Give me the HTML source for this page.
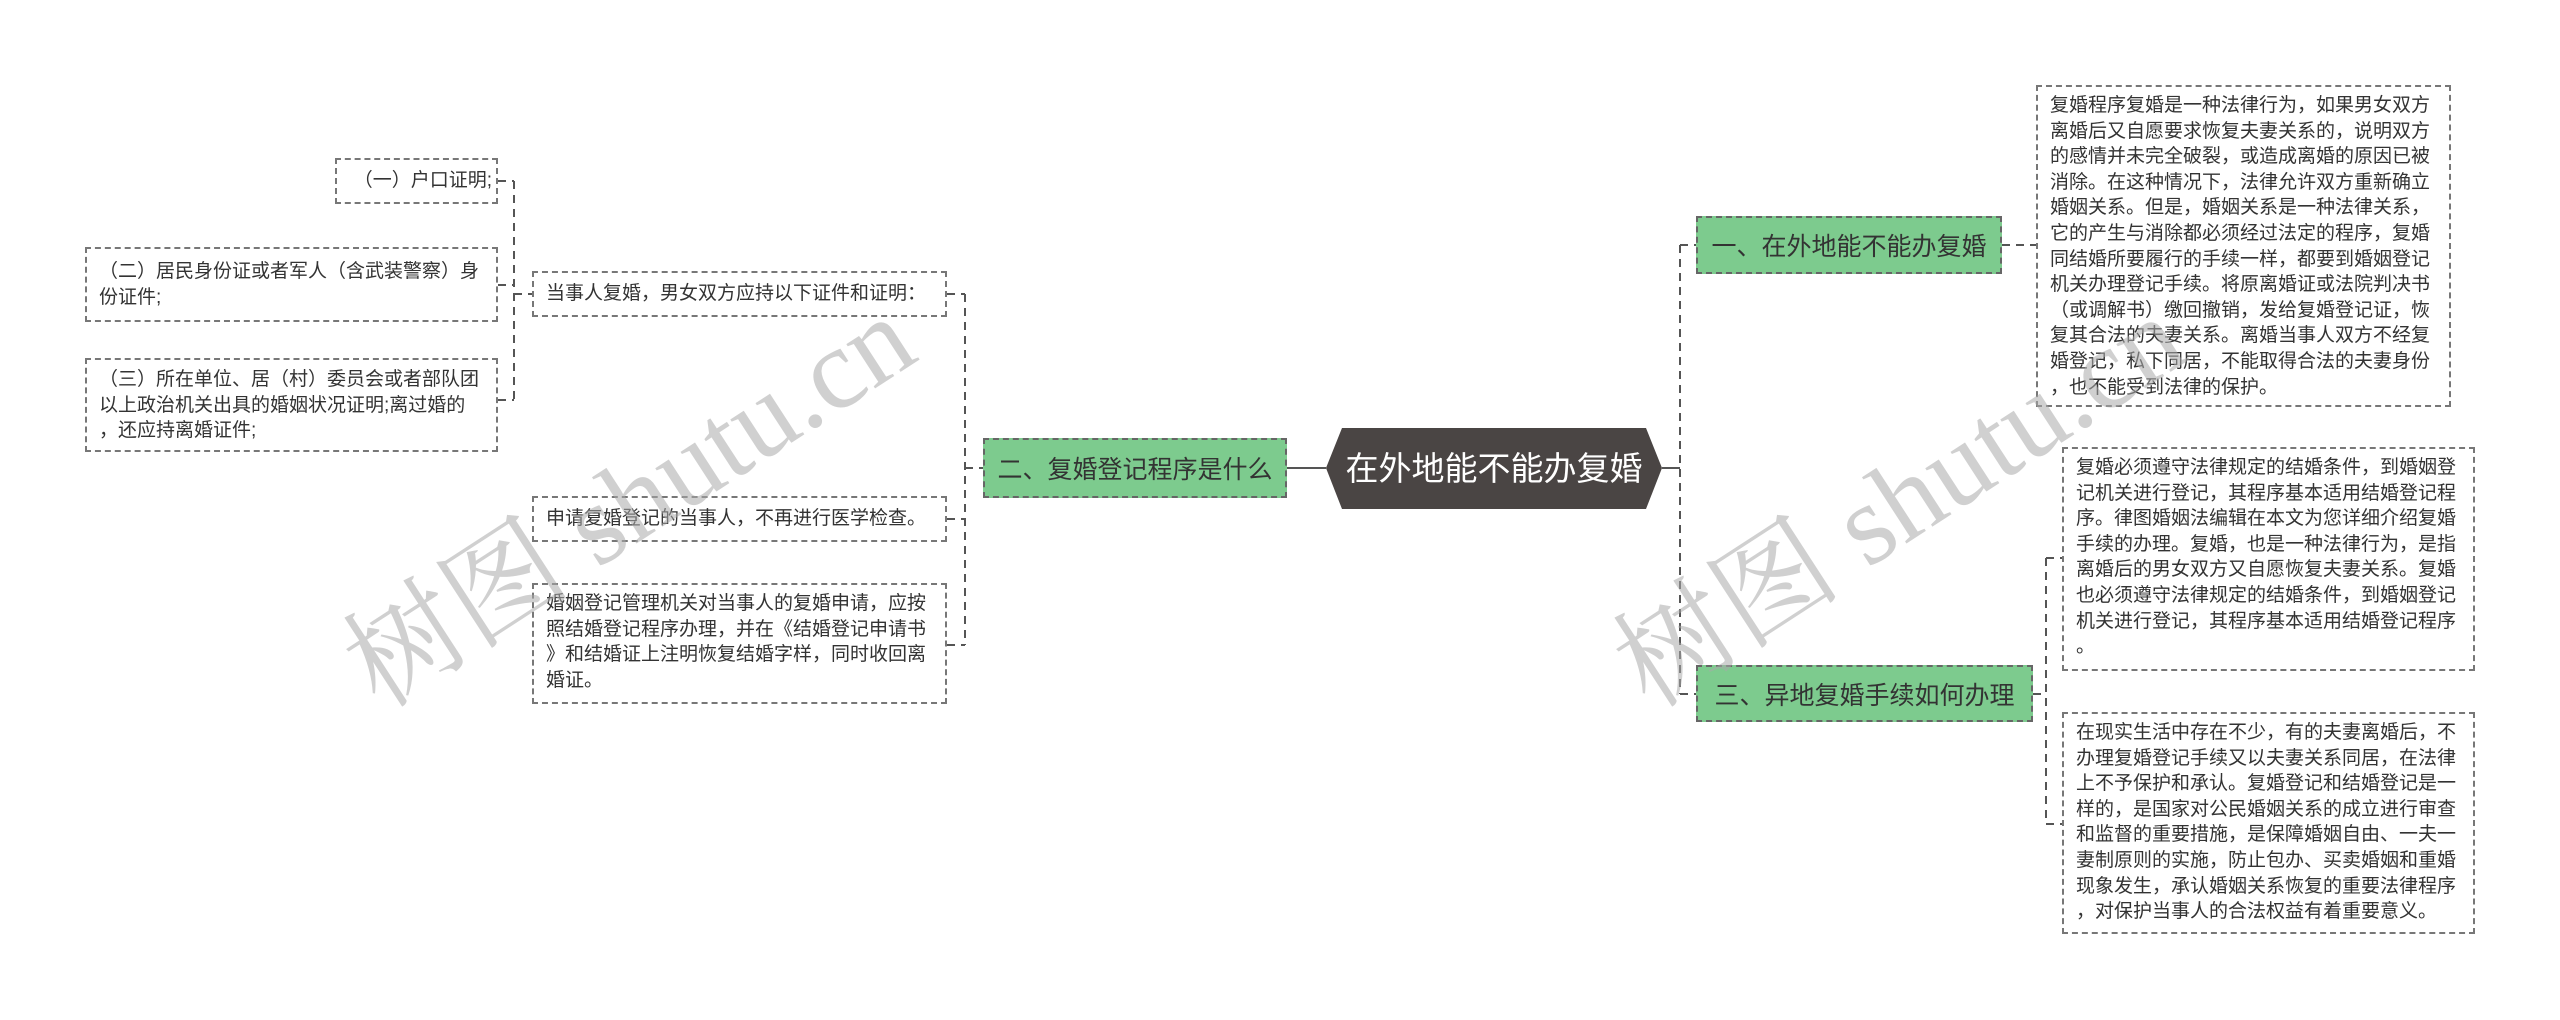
<!DOCTYPE html>
<html><head><meta charset="utf-8"><style>
html,body{margin:0;padding:0;background:#fff;}
#c{position:relative;width:2560px;height:1020px;overflow:hidden;font-family:"Liberation Sans","Noto Sans CJK SC",sans-serif;}
.b{position:absolute;box-sizing:border-box;border:2px dashed #777;background:#fff;color:#333;font-size:19px;line-height:25.6px;padding:6px 8px 6px 12px;white-space:nowrap;overflow:hidden;}
.g{position:absolute;box-sizing:border-box;border:2px dashed #666;background:#7dcb8e;color:#333;font-size:25px;display:flex;align-items:center;justify-content:center;white-space:nowrap;}
svg{position:absolute;left:0;top:0;}
</style></head><body><div id="c">
<svg width="2560" height="1020">
<g stroke="#555" stroke-width="2" stroke-dasharray="8,6" fill="none">
<line x1="1287" y1="468" x2="1326" y2="468" stroke-dasharray="none"/>
<line x1="1662" y1="468" x2="1680" y2="468" stroke-dasharray="none"/>
<line x1="1680" y1="245" x2="1680" y2="694"/>
<line x1="1680" y1="245" x2="1696" y2="245"/>
<line x1="1680" y1="694" x2="1696" y2="694"/>
<line x1="2002" y1="245" x2="2036" y2="245"/>
<line x1="2033" y1="694" x2="2046" y2="694"/>
<line x1="2046" y1="558" x2="2046" y2="824"/>
<line x1="2046" y1="558" x2="2062" y2="558"/>
<line x1="2046" y1="824" x2="2062" y2="824"/>
<line x1="965" y1="294" x2="965" y2="645"/>
<line x1="965" y1="468" x2="983" y2="468"/>
<line x1="947" y1="294" x2="965" y2="294"/>
<line x1="947" y1="519" x2="965" y2="519"/>
<line x1="947" y1="645" x2="965" y2="645"/>
<line x1="514" y1="181" x2="514" y2="400"/>
<line x1="514" y1="294" x2="532" y2="294"/>
<line x1="498" y1="181" x2="514" y2="181"/>
<line x1="498" y1="285" x2="514" y2="285"/>
<line x1="498" y1="400" x2="514" y2="400"/>
</g>
<polygon points="1342,428 1646,428 1662,468 1646,509 1342,509 1326,468" fill="#4a4544"/>
<text x="1494" y="480" fill="#fff" font-size="33" text-anchor="middle" font-family="Liberation Sans, Noto Sans CJK SC, sans-serif">在外地能不能办复婚</text>
</svg>
<div class="g" style="left:983px;top:438px;width:304px;height:60px;">二、复婚登记程序是什么</div>
<div class="g" style="left:1696px;top:216px;width:306px;height:58px;">一、在外地能不能办复婚</div>
<div class="g" style="left:1696px;top:665px;width:337px;height:57px;">三、异地复婚手续如何办理</div>
<div class="b" style="left:532px;top:271px;width:415px;height:46px;padding-top:8px;">当事人复婚，男女双方应持以下证件和证明：</div>
<div class="b" style="left:532px;top:496px;width:415px;height:46px;padding-top:8px;">申请复婚登记的当事人，不再进行医学检查。</div>
<div class="b" style="left:532px;top:583px;width:415px;height:121px;">婚姻登记管理机关对当事人的复婚申请，应按<br>照结婚登记程序办理，并在《结婚登记申请书<br>》和结婚证上注明恢复结婚字样，同时收回离<br>婚证。</div>
<div class="b" style="left:335px;top:158px;width:163px;height:46px;padding:8px 4px;text-align:right;">（一）户口证明;</div>
<div class="b" style="left:85px;top:247px;width:413px;height:75px;padding-top:10px;">（二）居民身份证或者军人（含武装警察）身<br>份证件;</div>
<div class="b" style="left:85px;top:358px;width:413px;height:94px;padding-top:7px;">（三）所在单位、居（村）委员会或者部队团<br>以上政治机关出具的婚姻状况证明;离过婚的<br>，还应持离婚证件;</div>
<div class="b" style="left:2036px;top:85px;width:415px;height:322px;">复婚程序复婚是一种法律行为，如果男女双方<br>离婚后又自愿要求恢复夫妻关系的，说明双方<br>的感情并未完全破裂，或造成离婚的原因已被<br>消除。在这种情况下，法律允许双方重新确立<br>婚姻关系。但是，婚姻关系是一种法律关系，<br>它的产生与消除都必须经过法定的程序，复婚<br>同结婚所要履行的手续一样，都要到婚姻登记<br>机关办理登记手续。将原离婚证或法院判决书<br>（或调解书）缴回撤销，发给复婚登记证，恢<br>复其合法的夫妻关系。离婚当事人双方不经复<br>婚登记，私下同居，不能取得合法的夫妻身份<br>，也不能受到法律的保护。</div>
<div class="b" style="left:2062px;top:447px;width:413px;height:224px;">复婚必须遵守法律规定的结婚条件，到婚姻登<br>记机关进行登记，其程序基本适用结婚登记程<br>序。律图婚姻法编辑在本文为您详细介绍复婚<br>手续的办理。复婚，也是一种法律行为，是指<br>离婚后的男女双方又自愿恢复夫妻关系。复婚<br>也必须遵守法律规定的结婚条件，到婚姻登记<br>机关进行登记，其程序基本适用结婚登记程序<br>。</div>
<div class="b" style="left:2062px;top:712px;width:413px;height:222px;">在现实生活中存在不少，有的夫妻离婚后，不<br>办理复婚登记手续又以夫妻关系同居，在法律<br>上不予保护和承认。复婚登记和结婚登记是一<br>样的，是国家对公民婚姻关系的成立进行审查<br>和监督的重要措施，是保障婚姻自由、一夫一<br>妻制原则的实施，防止包办、买卖婚姻和重婚<br>现象发生，承认婚姻关系恢复的重要法律程序<br>，对保护当事人的合法权益有着重要意义。</div>
<svg width="2560" height="1020" style="pointer-events:none">
<g fill="#aaa" fill-opacity="0.55" font-size="115" font-family="Liberation Serif, Noto Serif CJK SC, serif">
<text transform="translate(380,710) rotate(-33)">树图 shutu.cn</text>
<text transform="translate(1650,710) rotate(-33)">树图 shutu.cn</text>
</g></svg>
</div></body></html>
